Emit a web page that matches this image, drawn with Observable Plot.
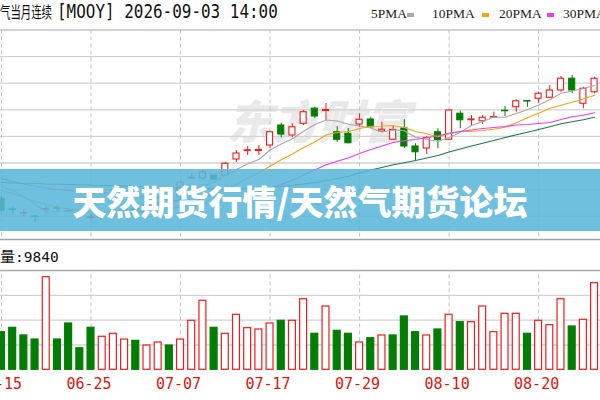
<!DOCTYPE html>
<html><head><meta charset="utf-8">
<script src="https://cdn.jsdelivr.net/npm/d3@7"></script>
<script src="https://cdn.jsdelivr.net/npm/@observablehq/plot@0.6"></script>
<style>
html,body{margin:0;padding:0;background:#fff;}
#wrap{position:relative;width:600px;height:400px;overflow:hidden;background:#fff;}
#price,#vol{position:absolute;left:0;}
#price{top:0;} #vol{top:240px;}
#hdr{position:absolute;left:0;top:0;}
.abs{position:absolute;white-space:nowrap;line-height:1;}
.cjk{font-family:"Noto Sans CJK SC",sans-serif;}
.mono{font-family:"DejaVu Sans Mono",monospace;}
.leg{font-family:"Liberation Serif",serif;font-size:13.5px;color:#1a1a1a;top:7px;}
.dash{position:absolute;top:13px;width:7px;height:4px;}
#banner{position:absolute;left:0;top:169px;width:600px;height:62px;background:rgba(91,182,217,0.88);
  display:flex;align-items:center;justify-content:center;}
#banner span{font-family:"Noto Sans CJK SC",sans-serif;font-weight:900;font-size:34px;color:#fff;}
</style></head><body>
<div id="wrap">
  <div id="price"></div>
  <div id="vol"></div>
  <div id="banner"><span id="title"></span></div>
  <svg id="hdr" width="370" height="26">
    <g transform="translate(0,18) scale(0.65,1)">
      <text id="hdrCjk" x="0" y="0" font-family="Noto Sans CJK SC" font-size="16" fill="#111"></text>
    </g>
    <g transform="translate(57,18) scale(0.84,1)">
      <text id="hdrTxt" x="0" y="0" font-family="DejaVu Sans Mono" font-size="19" fill="#111"></text>
    </g>
  </svg>
  <div id="legend"></div>
  <div class="abs" id="volLabel" style="left:0;top:248px;color:#111;"></div>
</div>
<script>
// ---------- data ----------
const headerName = "气当月连续";
const headerCode = "[MOOY] 2026-09-03 14:00";
const titleText = "天然期货行情/天然气期货论坛";
const volumeLabel = "量";
const lastVolume = 9840;
const maNames = ["5PMA", "10PMA", "20PMA", "30PMA"];
const maColors = ["#a8a8a8", "#f5a31a", "#e83ee8", "#1f7a4d"];

const dates = ["06-15","06-16","06-17","06-18","06-19","06-22","06-23","06-24","06-25","06-26",
  "06-29","06-30","07-01","07-02","07-03","07-06","07-07","07-08","07-09","07-10",
  "07-13","07-14","07-15","07-16","07-17","07-20","07-21","07-22","07-23","07-24",
  "07-27","07-28","07-29","07-30","07-31","08-03","08-04","08-05","08-06","08-07",
  "08-10","08-11","08-12","08-13","08-14","08-17","08-18","08-19","08-20","08-21",
  "08-24","08-25","08-26","08-27"];
const tickDates = ["06-15","06-25","07-07","07-17","07-29","08-10","08-20"];

const open = [3.407,3.364,3.348,3.337,3.363,3.369,3.356,3.342,3.330,3.338,
  3.344,3.356,3.368,3.364,3.388,3.416,3.416,3.488,3.488,3.500,
  3.500,3.564,3.598,3.598,3.620,3.700,3.660,3.707,3.767,3.758,
  3.673,3.667,3.704,3.724,3.676,3.643,3.688,3.616,3.608,3.673,
  3.643,3.747,3.721,3.717,3.732,3.759,3.773,3.798,3.807,3.811,
  3.840,3.887,3.787,3.833];
const high = [3.416,3.373,3.362,3.338,3.377,3.380,3.362,3.348,3.344,3.353,
  3.364,3.376,3.376,3.392,3.416,3.428,3.480,3.508,3.520,3.504,
  3.553,3.600,3.616,3.620,3.677,3.709,3.707,3.760,3.773,3.788,
  3.696,3.688,3.747,3.733,3.713,3.700,3.723,3.627,3.656,3.687,
  3.762,3.758,3.740,3.740,3.753,3.776,3.803,3.799,3.833,3.860,
  3.896,3.900,3.853,3.893];
const low = [3.353,3.347,3.336,3.313,3.349,3.353,3.352,3.332,3.320,3.327,
  3.336,3.348,3.352,3.356,3.380,3.396,3.408,3.487,3.480,3.480,
  3.496,3.552,3.580,3.580,3.607,3.651,3.653,3.700,3.727,3.720,
  3.633,3.627,3.693,3.687,3.673,3.640,3.607,3.560,3.584,3.607,
  3.640,3.687,3.698,3.704,3.731,3.736,3.753,3.773,3.789,3.807,
  3.833,3.827,3.767,3.827];
const close = [3.360,3.362,3.350,3.335,3.365,3.367,3.358,3.339,3.332,3.341,
  3.356,3.368,3.360,3.384,3.408,3.404,3.472,3.491,3.512,3.484,
  3.547,3.588,3.601,3.602,3.673,3.664,3.693,3.753,3.736,3.762,
  3.643,3.629,3.723,3.693,3.683,3.682,3.616,3.593,3.650,3.642,
  3.760,3.721,3.724,3.731,3.734,3.757,3.797,3.796,3.827,3.840,
  3.887,3.840,3.847,3.887];
const volume = [4270,4770,3900,3440,10520,3440,5260,2450,4770,3750,
  4090,3440,3290,2760,3100,2760,3440,5570,7840,4770,
  4090,6250,4730,4580,5260,5570,5570,8020,4090,7190,
  4430,4090,3100,3590,3900,3900,6060,4270,3900,4580,
  6250,5410,5410,7190,4270,6360,6360,4090,5570,5070,
  8020,4920,5680,9840];
const volumeUp = [0,0,0,0,1,0,0,0,0,1, 1,1,0,1,1,0,1,1,1,0,
  1,1,1,1,1,0,1,1,0,1, 0,0,1,0,1,0,0,0,1,0,
  1,0,1,1,1,1,1,0,1,1, 1,0,1,1];
const ma5 = [3.456,3.440,3.416,3.384,3.354,3.356,3.355,3.353,3.352,3.347,
  3.345,3.347,3.351,3.362,3.375,3.385,3.406,3.432,3.457,3.472,
  3.501,3.524,3.546,3.564,3.602,3.626,3.647,3.677,3.704,3.722,
  3.718,3.705,3.698,3.690,3.674,3.682,3.679,3.653,3.645,3.636,
  3.652,3.673,3.700,3.716,3.734,3.733,3.748,3.763,3.782,3.803,
  3.829,3.838,3.848,3.860];
const ma10 = [3.440,3.428,3.412,3.396,3.384,3.374,3.366,3.360,3.354,3.351,
  3.350,3.351,3.352,3.357,3.361,3.365,3.376,3.392,3.410,3.424,
  3.443,3.465,3.489,3.511,3.537,3.563,3.586,3.612,3.634,3.662,
  3.672,3.676,3.688,3.697,3.698,3.700,3.692,3.676,3.667,3.655,
  3.667,3.676,3.676,3.680,3.685,3.693,3.711,3.731,3.749,3.769,
  3.781,3.793,3.806,3.821];
const ma20 = [3.488,3.476,3.466,3.458,3.450,3.444,3.440,3.436,3.434,3.432,
  3.428,3.424,3.418,3.412,3.408,3.402,3.398,3.394,3.390,3.387,
  3.397,3.408,3.420,3.434,3.449,3.464,3.481,3.502,3.522,3.543,
  3.557,3.570,3.588,3.604,3.618,3.632,3.639,3.644,3.651,3.659,
  3.669,3.676,3.682,3.688,3.692,3.696,3.702,3.704,3.708,3.712,
  3.724,3.735,3.741,3.751];
const ma30 = [3.472,3.470,3.469,3.468,3.466,3.465,3.464,3.463,3.461,3.460,
  3.459,3.458,3.456,3.455,3.453,3.452,3.451,3.449,3.448,3.447,
  3.446,3.447,3.448,3.450,3.452,3.456,3.460,3.466,3.472,3.479,
  3.488,3.497,3.510,3.522,3.532,3.543,3.551,3.560,3.570,3.580,
  3.594,3.606,3.618,3.629,3.640,3.652,3.663,3.673,3.684,3.695,
  3.707,3.715,3.723,3.733];

// ---------- styles ----------
const RED = "#f21b1b", GREEN = "#037d03";
const priceTop = 4.082, priceBottom = 3.244, gridStep = 0.1064;
const volMax = 11280;
const xDomain = [-0.0894, 53.53];
const tickIdx = tickDates.map(t => dates.indexOf(t));

const candles = dates.map((d, i) => ({i, d, o: open[i], h: high[i], l: low[i], c: close[i], up: close[i] >= open[i]}));
const vols = dates.map((d, i) => ({i, v: volume[i], up: volumeUp[i] === 1}));
const maSeries = [ma5, ma10, ma20, ma30];
const hGrid = d3.range(1, 8).map(k => priceTop - k * gridStep);
const bw = 0.27, vw = 0.31;

// ---------- price panel ----------
const price = Plot.plot({
  width: 600, height: 241,
  marginTop: 29.5, marginBottom: 2, marginLeft: 0, marginRight: 0,
  x: {type: "linear", domain: xDomain, axis: null},
  y: {domain: [priceBottom, priceTop], axis: null},
  style: {background: "transparent", overflow: "hidden"},
  marks: [
    Plot.text(["东方财富"], {frameAnchor: "middle", dx: 18, dy: -10, fontSize: 46, fontWeight: 900,
      fill: "#e9e9e9", fontFamily: "Noto Sans CJK SC", fontStyle: "italic"}),
    Plot.ruleY(hGrid, {stroke: "#d2d2d2", strokeWidth: 1.3}),
    Plot.ruleY([priceTop], {stroke: "#c4c4c4", strokeWidth: 1.3}),
    Plot.ruleX(tickIdx, {stroke: "#c2c2c2", strokeDasharray: "4,3", strokeWidth: 1}),
    Plot.ruleY([priceBottom], {stroke: "#a4a4a4", strokeWidth: 1.6}),
    Plot.ruleX(candles, {x: "i", y1: "l", y2: "h", stroke: d => d.up ? RED : GREEN, strokeWidth: 1}),
    Plot.rect(candles, {x1: d => d.i - bw, x2: d => d.i + bw, y1: "o", y2: "c",
      fill: d => d.up ? "#fff" : GREEN, stroke: d => d.up ? RED : GREEN, strokeWidth: 1.1}),
    ...maSeries.map((s, k) => Plot.line(s, {x: (d, i) => i, y: d => d, stroke: maColors[k], strokeWidth: 1.2}))
  ]
});
document.getElementById("price").appendChild(price);

// ---------- volume panel ----------
const vol = Plot.plot({
  width: 600, height: 160,
  marginTop: 30, marginBottom: 30.7, marginLeft: 0, marginRight: 0,
  x: {type: "linear", domain: xDomain},
  y: {domain: [0, volMax], axis: null},
  style: {background: "transparent", fontFamily: "DejaVu Sans Mono", fontSize: "15px"},
  marks: [
    Plot.ruleY([0.25, 0.5, 0.75].map(f => f * volMax), {stroke: "#d2d2d2", strokeWidth: 1.3}),
    Plot.ruleY([volMax], {stroke: "#a8a8a8", strokeWidth: 1.5}),
    Plot.ruleX(tickIdx, {y1: 0, y2: volMax, stroke: "#c2c2c2", strokeDasharray: "4,3"}),
    Plot.rectY(vols, {x1: d => d.i - vw, x2: d => d.i + vw, y1: 0, y2: "v",
      fill: d => d.up ? "#fff" : GREEN, stroke: d => d.up ? RED : GREEN, strokeWidth: 1.2}),
    Plot.axisX({ticks: tickIdx, tickFormat: i => dates[i], tickSize: 0, tickPadding: 9,
      fill: "#e2140f", dx: -2, label: null})
  ]
});
document.getElementById("vol").appendChild(vol);

// ---------- text ----------
document.getElementById("title").textContent = titleText;
document.getElementById("hdrCjk").textContent = headerName;
document.getElementById("hdrTxt").textContent = headerCode;
document.getElementById("volLabel").innerHTML =
  `<span class="cjk" style="font-size:15px">${volumeLabel}</span><span class="mono" style="font-size:14.5px">:${lastVolume}</span>`;
const legX = [371, 432, 499, 563];
const dashX = [407, 482, 547, 612];
const leg = document.getElementById("legend");
maNames.forEach((n, k) => {
  const t = document.createElement("div");
  t.className = "abs leg"; t.style.left = legX[k] + "px"; t.textContent = n;
  leg.appendChild(t);
  const dsh = document.createElement("div");
  dsh.className = "dash"; dsh.style.left = dashX[k] + "px"; dsh.style.background = maColors[k];
  leg.appendChild(dsh);
});
</script>
</body></html>
